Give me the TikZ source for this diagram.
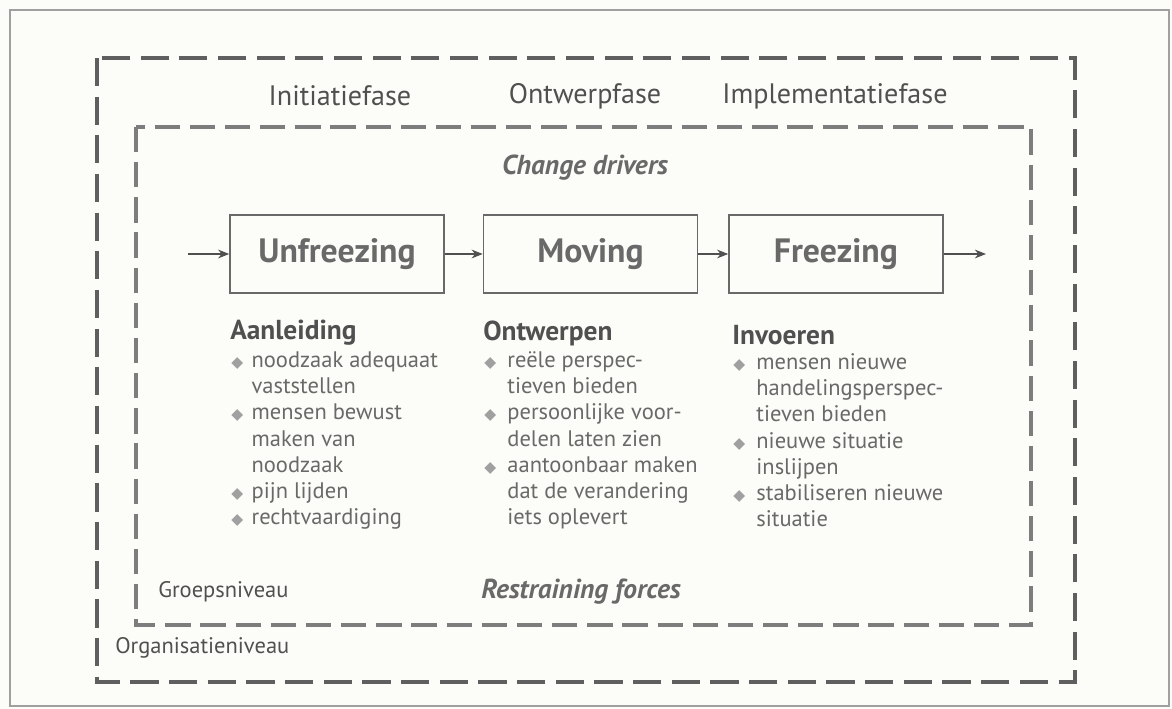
\documentclass[tikz,border=0pt]{standalone}
\usepackage{fontspec}
\setmainfont{PT Sans}
\newfontfamily\symfont{DejaVu Sans}
\usetikzlibrary{arrows.meta,positioning}
\definecolor{paper}{RGB}{252,252,248}
\definecolor{ink}{RGB}{80,80,80}
\definecolor{soft}{RGB}{105,105,105}
\definecolor{frame}{RGB}{160,160,160}
\definecolor{dashdark}{RGB}{95,95,95}
\definecolor{dashlight}{RGB}{125,125,125}
\definecolor{bullet}{RGB}{160,160,160}
\tikzset{
  arr/.style={-{Stealth[length=2.8mm,width=2.2mm]},line width=0.9pt,draw=ink},
  stage/.style={draw=soft,line width=1pt,minimum width=5.35cm,minimum height=1.95cm,
    font=\bfseries\fontsize{24}{28}\selectfont,text=soft},
  phase/.style={font=\fontsize{20}{24}\selectfont,text=ink},
  force/.style={font=\bfseries\itshape\fontsize{19.5}{23}\selectfont,text=soft},
  head/.style={font=\bfseries\fontsize{19.5}{23}\selectfont,text=ink,anchor=west,inner sep=0pt},
  list/.style={font=\fontsize{16}{18.6}\selectfont,text=soft,anchor=north west,inner sep=0pt,align=left},
  level/.style={font=\fontsize{16}{19}\selectfont,text=ink,anchor=west,inner sep=0pt},
  outerdash/.style={draw=dashdark,line width=3.4pt,dash pattern=on 20pt off 7.5pt},
  innerdash/.style={draw=dashlight,line width=3pt,dash pattern=on 18pt off 7pt}
}
\newcommand{\bul}{{\symfont\color{bullet}\fontsize{11}{11}\selectfont ◆}}

\begin{document}
\begin{tikzpicture}[x=0.025cm,y=-0.025cm]
  \fill[paper] (0,0) rectangle (1172,709);
  \useasboundingbox (0,0) rectangle (1172,709);
  \draw[frame,line width=0.8pt] (10,10) rectangle (1169,706);
  % niveaus
  \draw[outerdash] (97,58) rectangle (1075,682);
  \draw[innerdash] (136,127) rectangle (1031,625);
  % fasen
  \node[phase] (ini) at (340,96) {Initiatiefase};
  \node[phase] (ont) at (585,96) {Ontwerpfase};
  \node[phase] (imp) at (835,96) {Implementatiefase};
  \node[force] (drv) at (585,168) {Change drivers};
  % stappen
  \node[stage] (unf) at (337,254) {Unfreezing};
  \node[stage,right=0.95cm of unf] (mov) {Moving};
  \node[stage,right=0.75cm of mov] (frz) {Freezing};
  \coordinate (in) at (188,254);
  \coordinate (out) at (986,254);
  \draw[arr] (in) -- (unf);
  \draw[arr] (unf) -- (mov);
  \draw[arr] (mov) -- (frz);
  \draw[arr] (frz) -- (out);
  % toelichting
  \node[head] (aan) at (230,333) {Aanleiding};
  \node[list] (l1) at (231,349) {\begin{tabular}{@{}c@{\hspace{6pt}}l@{}}
    \bul & noodzaak adequaat\\
         & vaststellen\\
    \bul & mensen bewust\\
         & maken van\\
         & noodzaak\\
    \bul & pijn lijden\\
    \bul & rechtvaardiging
  \end{tabular}};
  \node[head] (owp) at (483,333) {Ontwerpen};
  \node[list] (l2) at (484,349) {\begin{tabular}{@{}c@{\hspace{8pt}}l@{}}
    \bul & reële perspec-\\
         & tieven bieden\\
    \bul & persoonlijke voor-\\
         & delen laten zien\\
    \bul & aantoonbaar maken\\
         & dat de verandering\\
         & iets oplevert
  \end{tabular}};
  \node[head] (inv) at (732,335) {Invoeren};
  \node[list] (l3) at (733,351) {\begin{tabular}{@{}c@{\hspace{8pt}}l@{}}
    \bul & mensen nieuwe\\
         & handelingsperspec-\\
         & tieven bieden\\
    \bul & nieuwe situatie\\
         & inslijpen\\
    \bul & stabiliseren nieuwe\\
         & situatie
  \end{tabular}};
  \node[force] (rst) at (581,592) {Restraining forces};
  \node[level] (grp) at (158,592) {Groepsniveau};
  \node[level] (org) at (115,648) {Organisatieniveau};
\end{tikzpicture}
\end{document}
